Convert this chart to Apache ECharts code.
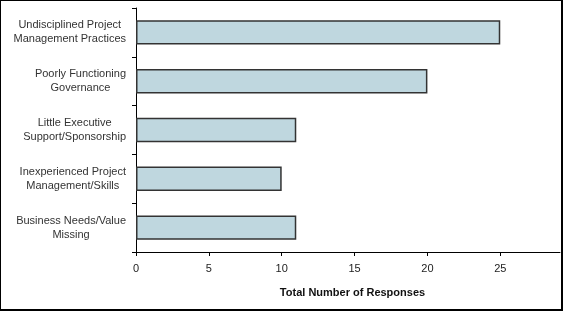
<!DOCTYPE html>
<html><head><meta charset="utf-8">
<script src="https://cdn.jsdelivr.net/npm/echarts@6/dist/echarts.min.js"></script>
<style>
html,body{margin:0;padding:0;background:#fff;}
#c{width:563px;height:311px;box-sizing:border-box;border:1px solid #000;border-right-width:2px;border-bottom-width:2px;}
</style></head><body>
<div id="c"></div>
<script>
const categories = [
  "Undisciplined Project\nManagement Practices",
  "Poorly Functioning\nGovernance",
  "Little Executive\nSupport/Sponsorship",
  "Inexperienced Project\nManagement/Skills",
  "Business Needs/Value\nMissing"
];
const responses = [25, 20, 11, 10, 11];
const xTicks = [0, 5, 10, 15, 20, 25];
const xAxisTitle = "Total Number of Responses";

const chart = echarts.init(document.getElementById('c'), null, {renderer: 'canvas'});
chart.setOption({
  animation: false,
  grid: {left: 135, top: 7, right: 1, bottom: 57, containLabel: false},
  xAxis: {
    type: 'value', min: 0, max: 29.1, interval: 5,
    splitLine: {show: false},
    axisLine: {show: true, lineStyle: {color: '#000', width: 1}},
    axisTick: {show: true, length: 4, lineStyle: {color: '#000'}, customValues: xTicks},
    axisLabel: {customValues: xTicks, color: '#222', fontFamily: 'Liberation Sans, Arial', fontSize: 11, margin: 11},
    name: xAxisTitle, nameLocation: 'middle', nameGap: 35,
    nameTextStyle: {fontFamily: 'Liberation Sans, Arial', fontSize: 11, fontWeight: 'bold', color: '#111', padding: [0,0,0,9]}
  },
  yAxis: {
    type: 'category', data: categories, inverse: true,
    axisLine: {show: true, lineStyle: {color: '#000', width: 1}},
    axisTick: {show: true, length: 4, lineStyle: {color: '#000'}},
    axisLabel: {
      color: '#333', fontFamily: 'Liberation Sans, Arial', fontSize: 11, margin: 10, lineHeight: 14, align: 'right',
      formatter: v => v.split('\n').map(s => '{c|' + s + '}').join('\n'),
      rich: {c: {align: 'center', fontFamily: 'Liberation Sans, Arial', fontSize: 11, lineHeight: 14, color: '#333'}}
    }
  },
  series: [{
    type: 'bar', data: responses, barWidth: '50%',
    itemStyle: {color: '#bfd7df', borderColor: '#333', borderWidth: 1.5}
  }]
});
</script>
</body></html>
